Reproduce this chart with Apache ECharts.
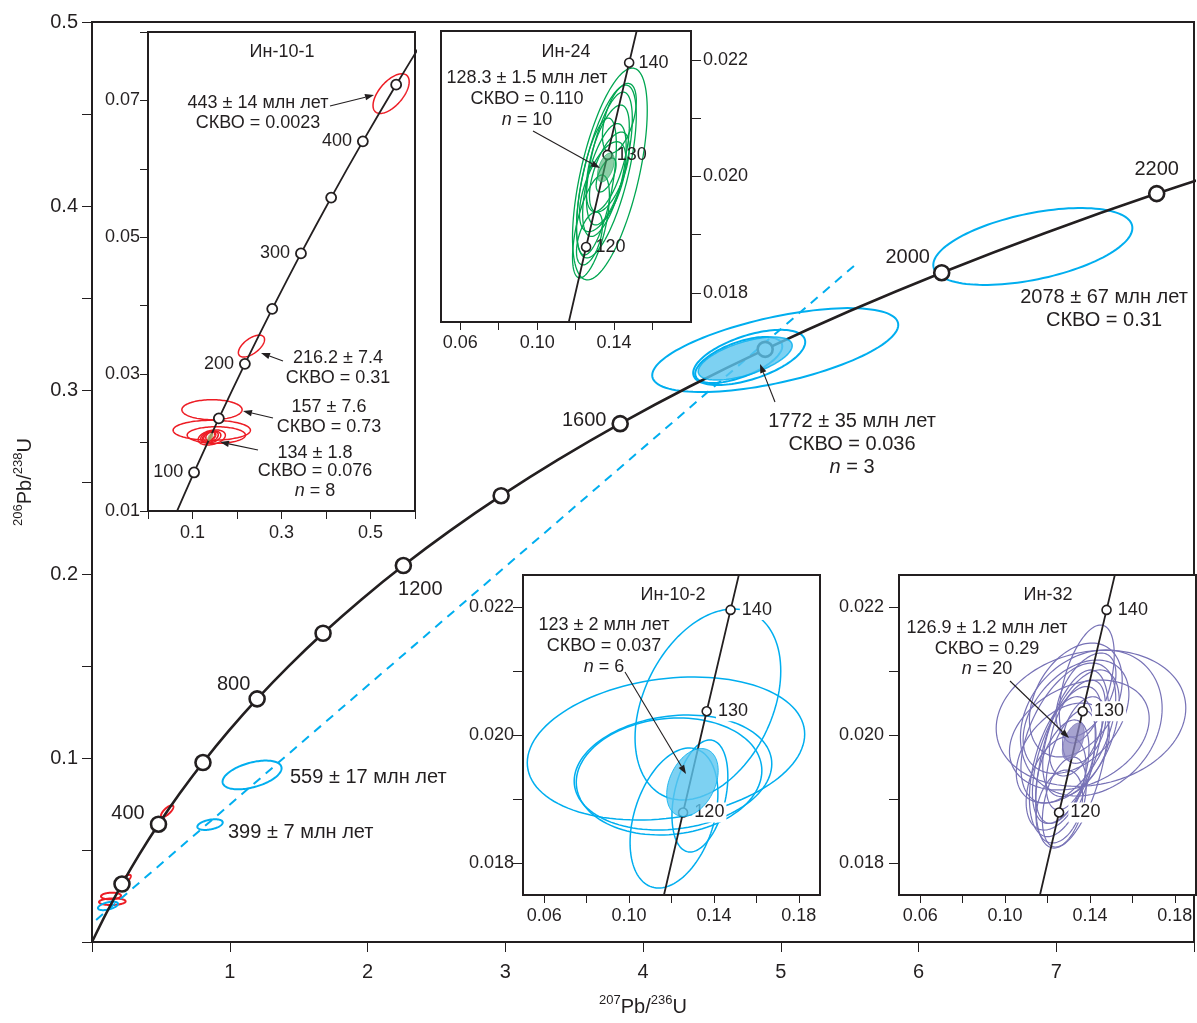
<!DOCTYPE html>
<html><head><meta charset="utf-8">
<script src="https://cdn.jsdelivr.net/npm/echarts@6/dist/echarts.min.js"></script>
<style>html,body{margin:0;padding:0;background:#fff}#c{width:1197px;height:1023px}</style>
</head><body><div id="c"></div>
<script>
// ---------------- DATA ----------------
// Main concordia (age Ma, 207Pb/235U, 206Pb/238U)
const concAges = [0,100,200,300,400,500,600,700,800,900,1000,1100,1200,1300,1400,1500,1600,1700,1800,1900,2000,2100,2200,2300];
const concX = [0,0.1035,0.2177,0.3437,0.4828,0.6363,0.8056,0.9925,1.1987,1.4263,1.6774,1.9545,2.2603,2.5977,2.9701,3.3810,3.8344,4.3348,4.8869,5.4962,6.1685,6.9105,7.7292,8.6326];
const concY = [0,0.01563,0.03151,0.04764,0.06402,0.08065,0.09754,0.11470,0.13213,0.14982,0.16780,0.18606,0.20460,0.22343,0.24256,0.26199,0.28171,0.30175,0.32210,0.34277,0.36376,0.38509,0.40674,0.42873];
const mainMarkAges = [200,400,600,800,1000,1200,1400,1600,1800,2000,2200];
const mainLabelAges = [400,800,1200,1600,2000,2200];
// discordia (dashed)
const discX = [0.03, 5.54];
const discY = [0.012, 0.368];
// ellipses: [cx, cy, halfX, halfY, rho]
const mainRed = [[0.546,0.0711,0.045,0.0032,0.75],[0.247,0.0342,0.035,0.0023,0.7],[0.138,0.0250,0.0726,0.0018,0.1],[0.1474,0.0219,0.0966,0.0018,0.1]];
const mainBlue = [[0.116,0.0196,0.0726,0.0023,0.5],[0.857,0.0638,0.0922,0.0029,0.4],[1.162,0.0908,0.2142,0.0078,0.47],[4.960,0.3217,0.893,0.0228,0.6],[4.771,0.3177,0.4067,0.0150,0.56],[4.695,0.3163,0.316,0.0125,0.6],[6.830,0.3780,0.7226,0.0209,0.48]];
const mainBlueFill = [[4.742,0.3171,0.3413,0.0117,0.6]];

// Inset Ин-10-1
const in1Ages = [50,100,150,200,250,300,350,400,450,500];
const in1X = [0.05048,0.10350,0.15920,0.21771,0.27917,0.34374,0.41156,0.48281,0.55766,0.63628];
const in1Y = [0.00779,0.01563,0.02354,0.03151,0.03954,0.04764,0.05580,0.06402,0.07230,0.08065];
const in1MarkAges = [100,150,200,250,300,350,400,450];
const in1LabelAges = [100,200,300,400];
const in1Red = [[0.5463,0.0710,0.0406,0.0029,0.6],[0.2325,0.0341,0.0294,0.0016,0.6],[0.1438,0.0248,0.0677,0.00146,0],[0.1433,0.0218,0.0869,0.00146,0],[0.1535,0.0211,0.0655,0.00121,0],[0.1433,0.02075,0.0305,0.0011,0.3],[0.1411,0.02082,0.0226,0.00088,0.3],[0.1400,0.02082,0.0180,0.0008,0.4],[0.1388,0.02089,0.0135,0.00073,0.4],[0.1400,0.02096,0.0102,0.00058,0.4]];
const in1Fill = [[0.1400,0.02082,0.0056,0.00051,0.6]];

// Small insets concordia (110–150 Ma)
const smAges = [110,120,130,140,150];
const smX = [0.11442,0.12545,0.13659,0.14784,0.15920];
const smY = [0.017210,0.018789,0.020371,0.021955,0.023542];
const smMarkAges = [120,130,140];

// Inset Ин-24
const in2Green = [[0.13782,0.020043,0.01943,0.00182,0.6],[0.13601,0.020086,0.01554,0.001485,0.65],[0.13756,0.020309,0.01192,0.001142,0.6],[0.13083,0.019828,0.01036,0.001176,0.6],[0.13756,0.020077,0.01036,0.000687,0.6],[0.13586,0.020026,0.00518,0.000292,0.6],[0.12798,0.019142,0.00959,0.000884,0.6],[0.14275,0.021000,0.00881,0.000600,0.5],[0.13409,0.019825,0.01209,0.000773,0.6],[0.12720,0.018936,0.00674,0.000455,0.5],[0.13669,0.020312,0.01122,0.000916,0.6],[0.13497,0.019940,0.01131,0.000970,0.6]];
const in2Fill = [[0.13575,0.020155,0.0044,0.000249,0.5]];
// Inset Ин-10-2
const in3Blue = [[0.13716,0.020477,0.03434,0.001492,0.35],[0.11740,0.019789,0.06538,0.001117,0.2],[0.12070,0.019414,0.04657,0.000898,0.15],[0.11885,0.019352,0.04374,0.000914,0.1],[0.12117,0.018703,0.02070,0.001094,0.35],[0.13339,0.019047,0.01317,0.000875,0.35]];
const in3Fill = [[0.12987,0.019258,0.01214,0.000531,0.35]];
// Inset Ин-32
const in4Purple = [[0.14050,0.020261,0.04469,0.001063,0.15],[0.14064,0.020188,0.0334,0.001141,0.2],[0.13852,0.020797,0.01294,0.000922,0.5],[0.12982,0.020031,0.02234,0.001094,0.5],[0.13170,0.019625,0.01726,0.001391,0.5],[0.12794,0.018953,0.01035,0.000703,0.4],[0.13500,0.020000,0.03293,0.000859,0.3],[0.13344,0.020286,0.02493,0.000886,0.4],[0.12700,0.019505,0.01552,0.001094,0.45],[0.12700,0.019427,0.01256,0.000808,0.45],[0.13406,0.020109,0.01317,0.00075,0.5],[0.12723,0.019719,0.02195,0.000781,0.4],[0.13815,0.020625,0.01411,0.000656,0.5],[0.12404,0.019245,0.01411,0.00073,0.4],[0.13735,0.020078,0.01021,0.00052,0.4],[0.13579,0.020027,0.01804,0.00099,0.5],[0.12935,0.019688,0.01646,0.00107,0.55],[0.13109,0.019609,0.01176,0.00078,0.5],[0.13335,0.020547,0.02187,0.00089,0.35],[0.12559,0.018883,0.01097,0.00057,0.3]];
const in4Fill = [[0.13217,0.019898,0.00517,0.000289,0.5]];

// ticks
const smTickX = [0.06,0.08,0.10,0.12,0.14,0.16,0.18];
const smLabelX = [0.06,0.10,0.14,0.18];
const smTickY = [0.018,0.019,0.020,0.021,0.022];
const smLabelY = [0.018,0.020,0.022];

// ---------------- STYLE / BUILD ----------------
const C = '#231f20';
const FONT = '"Liberation Sans", Arial, Helvetica, sans-serif';
const RED = '#ed1c24', BLUE = '#00aeef', GREEN = '#00a651', PURPLE = '#7772b6';

function ellipses(idx, data, stroke, fill, lw, z, opacity) {
  return {
    type: 'custom', xAxisIndex: idx, yAxisIndex: idx, z: z, clip: true, silent: true,
    data: data,
    renderItem: function (params, api) {
      const cx = api.value(0), cy = api.value(1), hx = api.value(2), hy = api.value(3), r = api.value(4);
      const s = Math.sqrt(1 - r * r);
      const pts = [];
      for (let k = 0; k < 120; k++) {
        const t = k / 120 * Math.PI * 2;
        pts.push(api.coord([cx + hx * Math.cos(t), cy + hy * (r * Math.cos(t) + s * Math.sin(t))]));
      }
      return { type: 'polygon', shape: { points: pts },
        style: { fill: fill || 'none', stroke: stroke, lineWidth: lw, opacity: opacity == null ? 1 : opacity } };
    }
  };
}
function conc(idx, xs, ys, lw, smooth) {
  return { type: 'line', xAxisIndex: idx, yAxisIndex: idx, z: 4, silent: true, showSymbol: false, smooth: smooth || false,
    data: xs.map((x, i) => [x, ys[i]]), lineStyle: { color: C, width: lw } };
}
function markers(idx, ages, xs, ys, markAges, labelAges, labelCfg, size, bw, fs, bg) {
  const data = [];
  markAges.forEach(a => {
    const i = ages.indexOf(a);
    const showL = labelAges.indexOf(a) >= 0;
    const cfg = labelCfg[a] || {};
    data.push({ value: [xs[i], ys[i]],
      label: showL ? Object.assign({ show: true, formatter: String(a), fontSize: fs, color: C, fontFamily: FONT,
        backgroundColor: bg || 'transparent', padding: bg ? [1, 2] : 0 }, cfg) : { show: false } });
  });
  return { type: 'scatter', xAxisIndex: idx, yAxisIndex: idx, z: 6, silent: true, symbol: 'circle', symbolSize: size,
    itemStyle: { color: '#fff', borderColor: C, borderWidth: bw, opacity: 1 }, data: data };
}
function txt(x, y, text, size, align) {
  return { type: 'text', x: x, y: y, z: 100, silent: true,
    style: { text: text, fill: C, font: size + 'px ' + FONT, textAlign: align || 'center', textVerticalAlign: 'middle',
      align: align || 'center', verticalAlign: 'middle',
      rich: { i: { font: 'italic ' + size + 'px ' + FONT, fill: C } } } };
}
function arrow(x1, y1, x2, y2) {
  const ang = Math.atan2(y2 - y1, x2 - x1), L = 9, W = 3.2;
  const bx = x2 - L * Math.cos(ang), by = y2 - L * Math.sin(ang);
  const px = -Math.sin(ang) * W, py = Math.cos(ang) * W;
  return [
    { type: 'line', z: 100, silent: true, shape: { x1: x1, y1: y1, x2: bx, y2: by }, style: { stroke: C, lineWidth: 1.1 } },
    { type: 'polygon', z: 100, silent: true, shape: { points: [[x2, y2], [bx + px, by + py], [bx - px, by - py]] }, style: { fill: C } }
  ];
}
const near = (v, arr) => arr.some(t => Math.abs(t - v) < 1e-7);
function smallX(idx, labels) {
  return { gridIndex: idx, type: 'value', min: 0.05, max: idx === 2 ? 0.18 : 0.19,
    axisLine: { show: false }, splitLine: { show: false },
    axisTick: { show: true, length: 8, customValues: smTickX.filter(v => v < (idx === 2 ? 0.175 : 0.185)), lineStyle: { color: C, width: 1 } },
    axisLabel: { show: true, customValues: labels, fontSize: 18, fontFamily: FONT, color: C, margin: 12, formatter: v => v.toFixed(2) } };
}
function smallY(idx, pos, margin) {
  return { gridIndex: idx, type: 'value', position: pos, min: 0.0175, max: 0.0225,
    axisLine: { show: false }, splitLine: { show: false },
    axisTick: { show: true, length: 10, customValues: smTickY, lineStyle: { color: C, width: 1 } },
    axisLabel: { show: true, customValues: smLabelY, fontSize: 18, fontFamily: FONT, color: C, margin: margin, formatter: v => v.toFixed(3) } };
}
const gridBox = { show: true, borderColor: C, borderWidth: 2 };

const mainLabelCfg = { 400: { position: 'left', offset: [0, -11] }, 800: { position: 'left', offset: [7, -14] },
  1200: { position: 'bottom', offset: [17, 0] }, 1600: { position: 'left', offset: [0, -3] },
  2000: { position: 'left', offset: [2, -15] }, 2200: { position: 'top' } };
const in1LabelCfg = { 100: { position: 'left' }, 200: { position: 'left' }, 300: { position: 'left' }, 400: { position: 'left' } };
const smLabelCfg = { 120: { position: 'right', distance: 4 }, 130: { position: 'right', distance: 4 }, 140: { position: 'right', distance: 4 } };

const sup = { fontSize: 13, fontFamily: FONT, color: C, lineHeight: 14, verticalAlign: 'top' };
const base = { fontSize: 20, fontFamily: FONT, color: C, lineHeight: 26 };

const graphics = [].concat(
  [txt(290, 777, '559 ± 17 млн лет', 20, 'left'), txt(228, 832, '399 ± 7 млн лет', 20, 'left'),
   txt(852, 421, '1772 ± 35 млн лет', 20), txt(852, 444, 'СКВО = 0.036', 20), txt(852, 467, '{i|n} = 3', 20),
   txt(1104, 297, '2078 ± 67 млн лет', 20), txt(1104, 320, 'СКВО = 0.31', 20)],
  arrow(775, 402, 760, 364),
  [txt(282, 52, 'Ин-10-1', 18), txt(258, 103, '443 ± 14 млн лет', 18), txt(258, 123, 'СКВО = 0.0023', 18),
   txt(338, 358, '216.2 ± 7.4', 18), txt(338, 378, 'СКВО = 0.31', 18),
   txt(329, 407, '157 ± 7.6', 18), txt(329, 427, 'СКВО = 0.73', 18),
   txt(315, 453, '134 ± 1.8', 18), txt(315, 471, 'СКВО = 0.076', 18), txt(315, 491, '{i|n} = 8', 18)],
  arrow(330, 106, 374, 95), arrow(283, 361, 261, 353), arrow(273, 418, 243, 411), arrow(258, 450, 220, 442),
  [txt(566, 52, 'Ин-24', 18), txt(527, 78, '128.3 ± 1.5 млн лет', 18), txt(527, 99, 'СКВО = 0.110', 18), txt(527, 120, '{i|n} = 10', 18)],
  arrow(533, 131, 600, 168),
  [txt(673, 595, 'Ин-10-2', 18), txt(604, 625, '123 ± 2 млн лет', 18), txt(604, 646, 'СКВО = 0.037', 18), txt(604, 667, '{i|n} = 6', 18)],
  arrow(625, 672, 686, 774),
  [txt(1048, 595, 'Ин-32', 18), txt(987, 628, '126.9 ± 1.2 млн лет', 18), txt(987, 649, 'СКВО = 0.29', 18), txt(987, 669, '{i|n} = 20', 18)],
  arrow(1010, 681, 1069, 738)
);

const option = {
  animation: false,
  backgroundColor: '#fff',
  textStyle: { fontFamily: FONT },
  grid: [
    Object.assign({ left: 92, top: 22, width: 1104, height: 920 }, gridBox),
    Object.assign({ left: 148, top: 32, width: 267, height: 479, backgroundColor: '#fff' }, gridBox),
    Object.assign({ left: 441, top: 31, width: 250, height: 291, backgroundColor: '#fff' }, gridBox),
    Object.assign({ left: 523, top: 575, width: 297, height: 320, backgroundColor: '#fff' }, gridBox),
    Object.assign({ left: 899, top: 575, width: 297, height: 320, backgroundColor: '#fff' }, gridBox)
  ],
  xAxis: [
    { gridIndex: 0, type: 'value', min: 0, max: 8, interval: 1, axisLine: { show: false }, splitLine: { show: false },
      axisTick: { show: true, length: 10, lineStyle: { color: C, width: 1 } },
      axisLabel: { fontSize: 20, fontFamily: FONT, color: C, margin: 20, formatter: v => (v >= 1 && v <= 7) ? String(v) : '' },
      name: '{s|207}{b|Pb/}{s|236}{b|U}', nameLocation: 'middle', nameGap: 52, nameTextStyle: { rich: { s: sup, b: base } } },
    { gridIndex: 1, type: 'value', min: 0, max: 0.6, interval: 0.1, axisLine: { show: false }, splitLine: { show: false },
      axisTick: { show: true, length: 8, lineStyle: { color: C, width: 1 } },
      axisLabel: { fontSize: 18, fontFamily: FONT, color: C, margin: 13, formatter: v => near(v, [0.1, 0.3, 0.5]) ? v.toFixed(1) : '' } },
    smallX(2, [0.06, 0.10, 0.14]),
    smallX(3, smLabelX),
    smallX(4, smLabelX)
  ],
  yAxis: [
    { gridIndex: 0, type: 'value', min: 0, max: 0.5, interval: 0.05, axisLine: { show: false }, splitLine: { show: false },
      axisTick: { show: true, length: 10, lineStyle: { color: C, width: 1 } },
      axisLabel: { fontSize: 20, fontFamily: FONT, color: C, margin: 14,
        formatter: v => { const k = Math.round(v * 100); return (k % 10 === 0 && k > 0) ? (k / 100).toFixed(1) : ''; } },
      name: '{s|206}{b|Pb/}{s|238}{b|U}', nameLocation: 'middle', nameRotate: 90, nameGap: 54, nameTextStyle: { rich: { s: sup, b: base } } },
    { gridIndex: 1, type: 'value', min: 0.01, max: 0.08, interval: 0.01, axisLine: { show: false }, splitLine: { show: false },
      axisTick: { show: true, length: 8, lineStyle: { color: C, width: 1 } },
      axisLabel: { fontSize: 18, fontFamily: FONT, color: C, margin: 8,
        formatter: v => near(v, [0.01, 0.03, 0.05, 0.07]) ? v.toFixed(2) : '' } },
    smallY(2, 'right', 12),
    smallY(3, 'left', 9),
    smallY(4, 'left', 15)
  ],
  graphic: { elements: graphics },
  series: [
    // main
    ellipses(0, mainRed, RED, null, 2, 3),
    ellipses(0, mainBlue, BLUE, null, 2, 3),
    { type: 'line', xAxisIndex: 0, yAxisIndex: 0, z: 3, silent: true, showSymbol: false,
      data: discX.map((x, i) => [x, discY[i]]), lineStyle: { color: BLUE, width: 2, type: [9, 7] } },
    conc(0, concX, concY, 2.6, 0.3),
    markers(0, concAges, concX, concY, mainMarkAges, mainLabelAges, mainLabelCfg, 15, 2.6, 20),
    ellipses(0, mainBlueFill, BLUE, '#5cc6ef', 1.5, 7, 0.8),
    // inset 1
    ellipses(1, in1Red, RED, null, 1.5, 3),
    conc(1, in1X, in1Y, 1.8, 0.3),
    markers(1, in1Ages, in1X, in1Y, in1MarkAges, in1LabelAges, in1LabelCfg, 10, 1.8, 18),
    ellipses(1, in1Fill, '#b0a060', '#a9a46a', 1, 7, 0.9),
    // inset 2
    ellipses(2, in2Green, GREEN, null, 1.3, 3),
    conc(2, smX, smY, 1.8),
    markers(2, smAges, smX, smY, smMarkAges, smMarkAges, smLabelCfg, 9, 1.6, 18),
    ellipses(2, in2Fill, GREEN, '#3dae6a', 1, 7, 0.6),
    // inset 3
    ellipses(3, in3Blue, BLUE, null, 1.5, 3),
    conc(3, smX, smY, 1.8),
    markers(3, smAges, smX, smY, smMarkAges, smMarkAges, smLabelCfg, 9, 1.6, 18, '#fff'),
    ellipses(3, in3Fill, BLUE, '#5cc6ef', 1, 7, 0.8),
    // inset 4
    ellipses(4, in4Purple, PURPLE, null, 1.2, 3),
    conc(4, smX, smY, 1.8),
    markers(4, smAges, smX, smY, smMarkAges, smMarkAges, smLabelCfg, 9, 1.6, 18, '#fff'),
    ellipses(4, in4Fill, PURPLE, '#8984c0', 1, 7, 0.75)
  ]
};
const chart = echarts.init(document.getElementById('c'), null, { renderer: 'canvas' });
chart.setOption(option);
</script></body></html>
